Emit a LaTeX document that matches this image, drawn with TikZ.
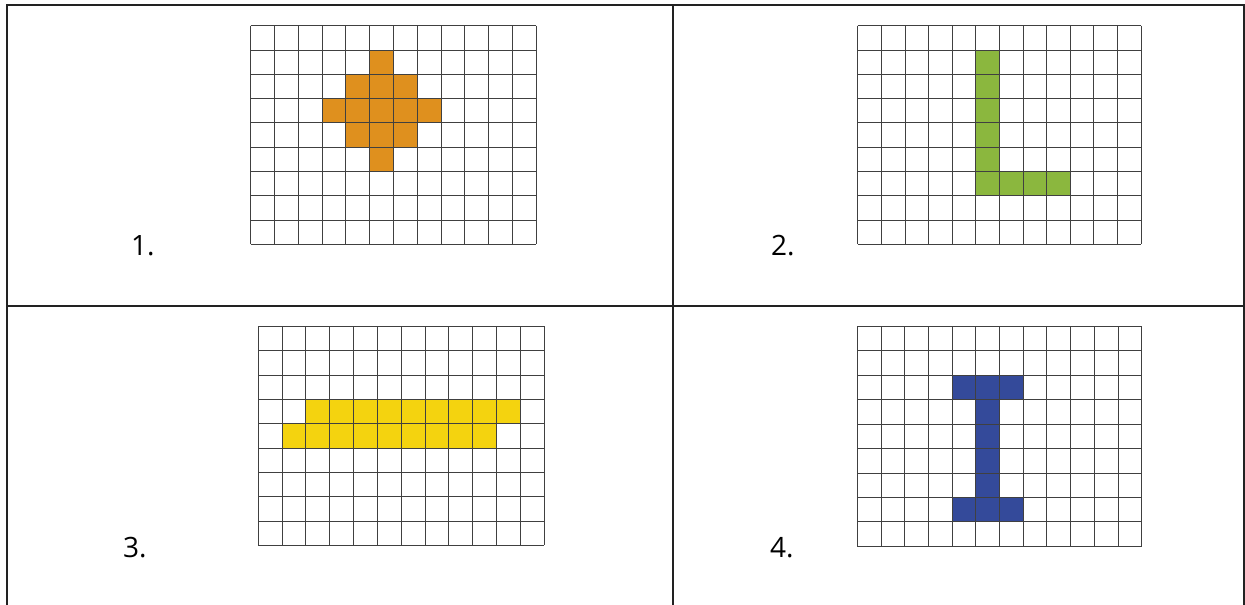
\documentclass[tikz,border=0pt]{standalone}
\usepackage{fontspec}
\setmainfont{Open Sans}
\definecolor{cOrange}{HTML}{DF901E}
\definecolor{cGreen}{HTML}{8BB73E}
\definecolor{cYellow}{HTML}{F4D30F}
\definecolor{cBlue}{HTML}{344A9A}
\definecolor{cRule}{HTML}{222222}
\definecolor{cGrid}{HTML}{404040}
\newcommand\cellgrid{%
  \foreach \i in {0,...,12} \draw[gridline] (\i,0) -- (\i,9);
  \foreach \j in {0,...,9} \draw[gridline] (0,\j) -- (12,\j);
}
\begin{document}
\begin{tikzpicture}[x=1pt,y=-1pt,
  gridline/.style={draw=cGrid,line width=0.85pt},
  rule/.style={draw=cRule,line width=1.9pt},
  lbl/.style={anchor=base west,inner sep=0pt,font=\fontsize{28}{30}\selectfont}]
\useasboundingbox (0,0) rectangle (1245,605);
\fill[white] (0,0) rectangle (1245,605);
% table rules
\draw[rule] (7,605) -- (7,5) -- (1244,5) -- (1244,605);
\draw[rule] (673,5) -- (673,605);
\draw[rule] (7,306) -- (1244,306);
% grid 1
\begin{scope}[xshift=250.7pt,yshift=-25.7pt,x=23.78pt,y=-24.29pt]
  \foreach \c/\r in {5/1,4/2,5/2,6/2,3/3,4/3,5/3,6/3,7/3,4/4,5/4,6/4,5/5}
    \fill[cOrange] (\c,\r) rectangle ++(1,1);
  \cellgrid
\end{scope}
% grid 2
\begin{scope}[xshift=857.7pt,yshift=-25.7pt,x=23.61pt,y=-24.29pt]
  \foreach \c/\r in {5/1,5/2,5/3,5/4,5/5,5/6,6/6,7/6,8/6}
    \fill[cGreen] (\c,\r) rectangle ++(1,1);
  \cellgrid
\end{scope}
% grid 3
\begin{scope}[xshift=258.3pt,yshift=-326.3pt,x=23.81pt,y=-24.33pt]
  \foreach \c in {2,...,10} \fill[cYellow] (\c,3) rectangle ++(1,1);
  \foreach \c in {1,...,9} \fill[cYellow] (\c,4) rectangle ++(1,1);
  \cellgrid
\end{scope}
% grid 4
\begin{scope}[xshift=857.3pt,yshift=-326.3pt,x=23.7pt,y=-24.44pt]
  \foreach \c/\r in {4/2,5/2,6/2,5/3,5/4,5/5,5/6,4/7,5/7,6/7}
    \fill[cBlue] (\c,\r) rectangle ++(1,1);
  \cellgrid
\end{scope}
% labels
\node[lbl] (l1) at (131,255.7) {1.};
\node[lbl] (l2) at (771,255.7) {2.};
\node[lbl] (l3) at (123,557.3) {3.};
\node[lbl] (l4) at (770,557.3) {4.};
\end{tikzpicture}
\end{document}
